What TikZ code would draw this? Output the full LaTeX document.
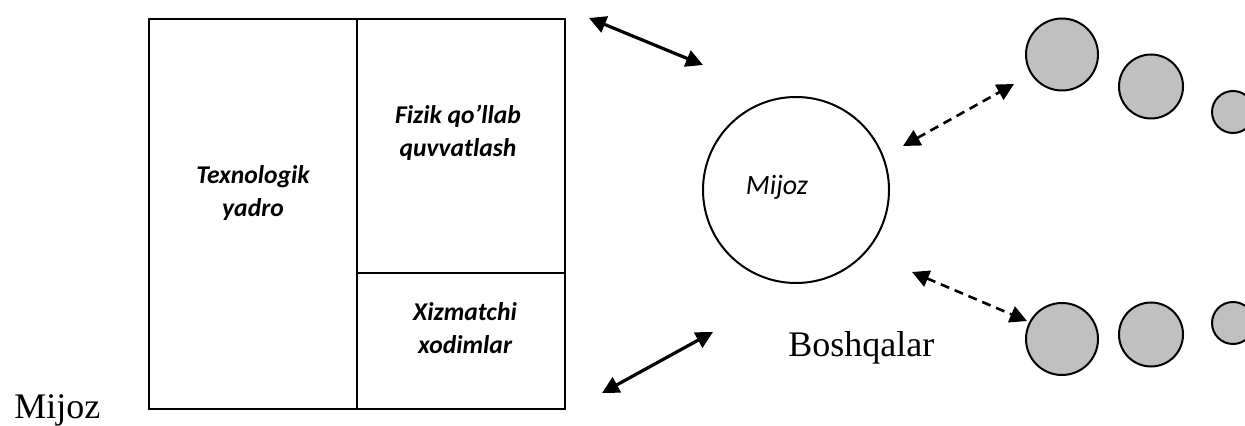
\documentclass[tikz,border=0pt]{standalone}
\usepackage{fontspec}
\setmainfont{Liberation Serif}
\newfontfamily\carlito{Carlito}
\usetikzlibrary{arrows.meta}
\definecolor{ballgray}{RGB}{192,192,192}

\begin{document}
\begin{tikzpicture}[x=0.5pt,y=-0.5pt]
  \tikzset{cell/.style={draw,line width=1pt,inner sep=0pt},
           lbl/.style={font=\carlito\bfseries\itshape\fontsize{12.8}{16.5}\selectfont,align=center},
           link/.style={line width=1.6pt,{Triangle[length=8.5pt,width=8.5pt]}-{Triangle[length=8.5pt,width=8.5pt]}},
           dlink/.style={link,line width=1.3pt,dash pattern=on 4.5pt off 3pt},
           ball/.style={circle,draw,line width=1pt,fill=ballgray,inner sep=0pt},
           big/.style={font=\fontsize{18}{22}\selectfont,inner sep=0pt}}
  \useasboundingbox (0,0) rectangle (1245,426);
  \clip (0,0) rectangle (1245,426);
  % the service box
  \node[cell,minimum width=104pt,minimum height=195pt] (core) at (253,214) {};
  \node[cell,minimum width=104pt,minimum height=127pt] (fizik) at (461,146) {};
  \node[cell,minimum width=104pt,minimum height=68pt] (xizmat) at (461,341) {};
  \node[lbl] (coreT) at (253,193) {Texnologik\\yadro};
  \node[lbl] (fizikT) at (458,133) {Fizik qo’llab\\quvvatlash};
  \node[lbl] (xizmatT) at (465,328) {Xizmatchi\\xodimlar};
  % the client
  \node[circle,draw,line width=1pt,minimum size=93pt,inner sep=0pt] (client) at (796,190) {};
  \node[font=\carlito\itshape\fontsize{14}{16}\selectfont] (clientT) at (777,187) {Mijoz};
  % the others
  \node[ball,minimum size=36pt] (up1) at (1062,54.5) {};
  \node[ball,minimum size=32pt] (up2) at (1151,86.5) {};
  \node[ball,minimum size=21pt] (up3) at (1233,112) {};
  \node[ball,minimum size=36pt] (lo1) at (1062,339) {};
  \node[ball,minimum size=32pt] (lo2) at (1151,334.5) {};
  \node[ball,minimum size=21pt] (lo3) at (1233,323) {};
  \node[big,anchor=base west] (others) at (788,357) {Boshqalar};
  \node[big,anchor=base west] (mijoz) at (14,418) {Mijoz};
  % links
  \coordinate (a1) at (589,18);   \coordinate (a2) at (703,65);
  \coordinate (b1) at (602,393);  \coordinate (b2) at (713,332);
  \coordinate (c1) at (903,146);  \coordinate (c2) at (1014,84);
  \coordinate (d1) at (912,272);  \coordinate (d2) at (1027,321);
  \draw[link] (a1) -- (a2);
  \draw[link] (b1) -- (b2);
  \draw[dlink] (c1) -- (c2);
  \draw[dlink] (d1) -- (d2);
\end{tikzpicture}
\end{document}
